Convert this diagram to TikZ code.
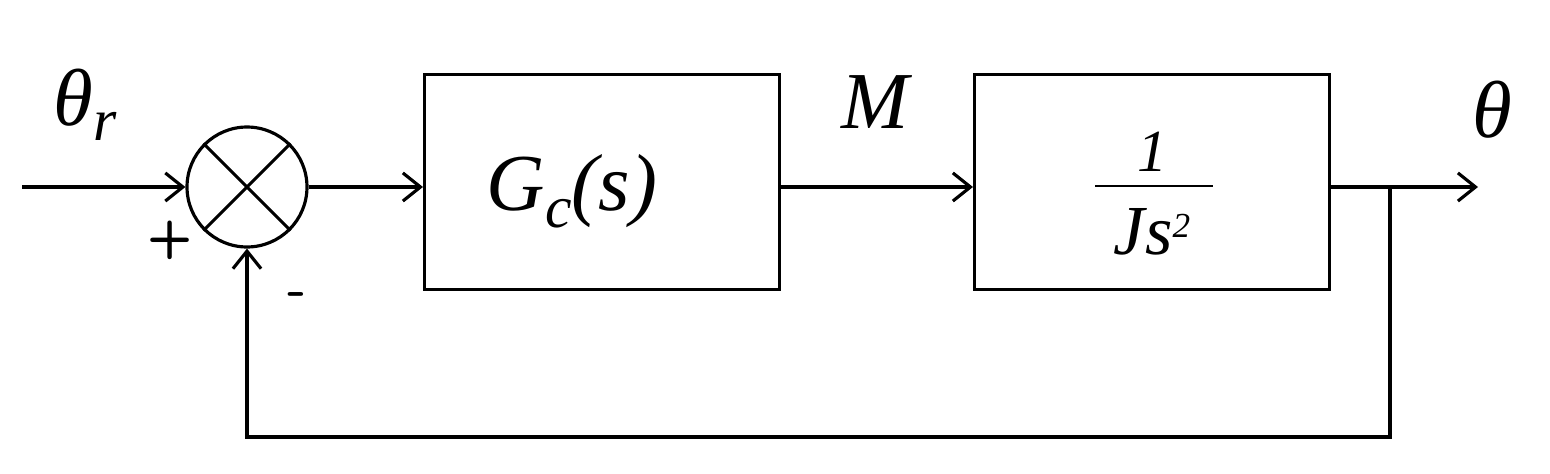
\documentclass[tikz,border=0pt]{standalone}
\usepackage{fontspec}
\setmainfont{Liberation Serif}
\usetikzlibrary{arrows.meta}
\begin{document}
\begin{tikzpicture}[x=0.02cm,y=-0.02cm,line width=1.8pt,
  blk/.style={draw,minimum width=7.1cm,minimum height=4.3cm,inner sep=0pt},
  arr/.style={-{Straight Barb[length=10pt,width=16pt]}},
  lab/.style={font=\fontsize{46}{50}\selectfont\itshape},
  sgn/.style={font=\fontsize{30}{34}\sffamily\bfseries}]
\useasboundingbox (0,0) rectangle (1550,473);
\node[circle,draw,minimum size=2.4cm,inner sep=0pt] (sum) at (247,187) {};
\draw (sum.45) -- (sum.225) (sum.135) -- (sum.315);
\node[blk,lab,text depth=0pt] (g) at (602,182) {\hspace*{-1.2cm}G\raisebox{-0.35cm}{\fontsize{34}{36}\selectfont c}(s)};
\node[blk] (p) at (1152,182) {};
\node[font=\fontsize{34}{38}\selectfont\itshape] (num) at (1152,152) {1};
\node[font=\fontsize{40}{44}\selectfont\itshape] (den) at (1152,232) {Js\raisebox{0.35cm}{\fontsize{20}{22}\selectfont 2}};
\draw[line width=1.2pt] (1095,186) -- (1213,186);
\coordinate (in) at (22,187);
\coordinate (out) at (1478,187);
\coordinate (br) at (1390,187);
\coordinate (fb1) at (1390,437);
\coordinate (fb2) at (247,437);
\draw[arr] (in) -- (sum);
\draw[arr] (sum) -- (g.west|-sum);
\draw[arr] (g.east|-sum) -- (p.west|-sum);
\draw[arr] (p.east|-sum) -- (out);
\draw[arr] (br) -- (fb1) -- (fb2) -- (sum);
\node[lab] (tr) at (85,105) {θ\raisebox{-0.3cm}{\fontsize{34}{36}\selectfont r}};
\node[lab] (m) at (875,102) {M};
\node[lab] (t) at (1492,110) {θ};
\node[sgn] (plus) at (170,240) {+};
\node[sgn] (minus) at (297,300) {-};
\end{tikzpicture}
\end{document}
